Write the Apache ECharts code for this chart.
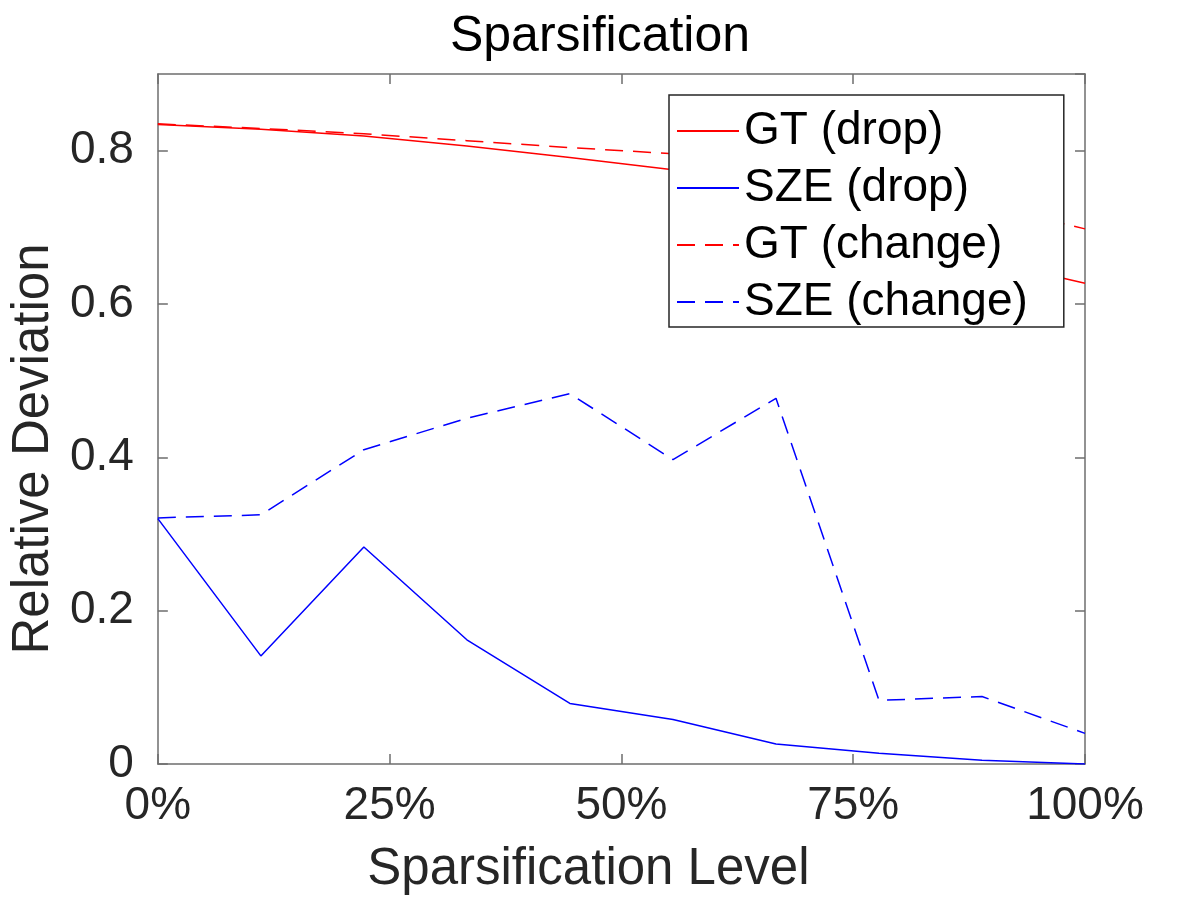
<!DOCTYPE html>
<html>
<head>
<meta charset="utf-8">
<script src="https://cdn.jsdelivr.net/npm/echarts@6/dist/echarts.min.js"></script>
<style>
    html, body { margin: 0; width: 100%; height: 100%; background: #fff; }
    #chart { width: 1200px; height: 900px; }
</style>
</head>
<body>
<div id="chart"></div>
<script>
// sparsification levels (%) of the ten measurements
const levels = [0, 11.11, 22.22, 33.33, 44.44, 55.56, 66.67, 77.78, 88.89, 100];
const gtDrop = [0.834, 0.828, 0.819, 0.806, 0.791, 0.775, 0.744, 0.702, 0.658, 0.627];
const szeDrop = [0.320, 0.141, 0.283, 0.162, 0.079, 0.058, 0.026, 0.014, 0.005, 0.0];
const gtChange = [0.835, 0.829, 0.822, 0.813, 0.804, 0.796, 0.779, 0.756, 0.730, 0.698];
const szeChange = [0.321, 0.325, 0.410, 0.451, 0.483, 0.397, 0.477, 0.083, 0.088, 0.040];
const xTicks = [0, 25, 50, 75, 100];
const yTicks = [0, 0.2, 0.4, 0.6, 0.8];

const font = '"Liberation Sans", Arial, Helvetica, sans-serif';
const boxColor = '#6e6e6e';
const textColor = '#262626';

const pairs = (ys) => ys.map((y, i) => [levels[i], y]);

const mChart = echarts.init(document.getElementById('chart'));

const axisLine = { show: true, onZero: false, lineStyle: { color: boxColor, width: 1.5 } };
const axisTick = { show: true, inside: true, length: 10, lineStyle: { color: boxColor, width: 1.5 } };

const xBase = {
    type: 'value',
    min: xTicks[0],
    max: xTicks[xTicks.length - 1],
    interval: xTicks[1] - xTicks[0],
    axisLine,
    axisTick,
    splitLine: { show: false },
};
const yBase = {
    type: 'value',
    min: yTicks[0],
    max: 0.9,
    interval: yTicks[1] - yTicks[0],
    axisLine,
    axisTick,
    splitLine: { show: false },
};

const option = {
    animation: false,
    backgroundColor: '#fff',
    title: {
        text: 'Sparsification',
        left: 'center',
        top: 7,
        textStyle: { fontFamily: font, fontSize: 50, fontWeight: 'normal', color: '#000' },
    },
    grid: { left: 157, right: 115, top: 74, bottom: 133 },
    legend: {
        orient: 'vertical',
        left: 669,
        top: 95,
        padding: [11, 36, 0, 7],
        itemWidth: 62,
        itemHeight: 14,
        itemGap: 7,
        itemStyle: { opacity: 0 },
        backgroundColor: '#fff',
        borderColor: '#262626',
        borderWidth: 1.5,
        borderRadius: 0,
        textStyle: { fontFamily: font, fontSize: 46, color: '#000', lineHeight: 50 },
        data: ['GT (drop)', 'SZE (drop)', 'GT (change)', 'SZE (change)'],
    },
    xAxis: [
        Object.assign({}, xBase, {
            position: 'bottom',
            name: 'Sparsification Level',
            nameLocation: 'middle',
            nameGap: 80,
            nameTextStyle: { fontFamily: font, fontSize: 51, color: textColor, padding: [0, 66, 0, 0] },
            axisLabel: {
                margin: 19,
                fontFamily: font,
                fontSize: 46,
                color: textColor,
                formatter: (v) => v + '%',
            },
        }),
        Object.assign({}, xBase, { position: 'top', axisLabel: { show: false } }),
    ],
    yAxis: [
        Object.assign({}, yBase, {
            position: 'left',
            name: 'Relative Deviation',
            nameLocation: 'middle',
            nameGap: 97,
            nameTextStyle: { fontFamily: font, fontSize: 51, color: textColor, padding: [0, 60, 0, 0] },
            axisLabel: {
                margin: 24,
                fontFamily: font,
                fontSize: 46,
                color: textColor,
                showMaxLabel: false,
            },
        }),
        Object.assign({}, yBase, { position: 'right', axisLabel: { show: false } }),
    ],
    series: [
        {
            name: 'GT (drop)',
            type: 'line',
            symbol: 'none',
            lineStyle: { color: '#ff0000', width: 1.5 },
            itemStyle: { color: '#ff0000' },
            data: pairs(gtDrop),
        },
        {
            name: 'SZE (drop)',
            type: 'line',
            symbol: 'none',
            lineStyle: { color: '#0000ff', width: 1.5 },
            itemStyle: { color: '#0000ff' },
            data: pairs(szeDrop),
        },
        {
            name: 'GT (change)',
            type: 'line',
            symbol: 'none',
            lineStyle: { color: '#ff0000', width: 1.5, type: [18, 10] },
            itemStyle: { color: '#ff0000' },
            data: pairs(gtChange),
        },
        {
            name: 'SZE (change)',
            type: 'line',
            symbol: 'none',
            lineStyle: { color: '#0000ff', width: 1.5, type: [18, 10] },
            itemStyle: { color: '#0000ff' },
            data: pairs(szeChange),
        },
    ],
};

mChart.setOption(option);
</script>
</body>
</html>
